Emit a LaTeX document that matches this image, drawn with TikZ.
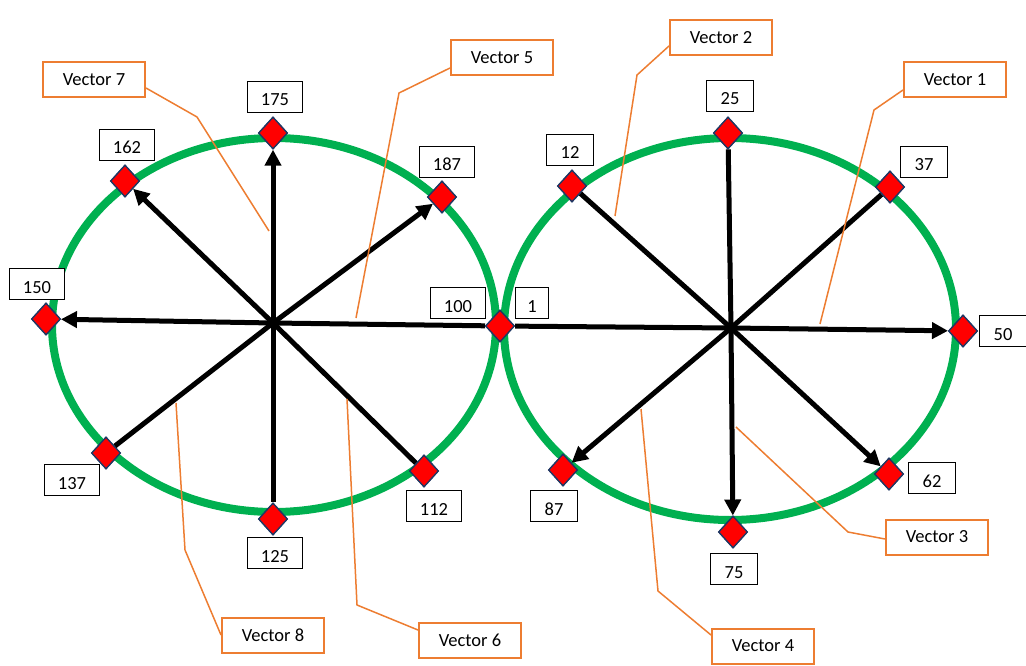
\documentclass[tikz,border=0pt]{standalone}
\usepackage{fontspec}
\setmainfont{Carlito}
\usetikzlibrary{shapes.geometric,arrows.meta}
\definecolor{ringgreen}{HTML}{00B050}
\definecolor{callorange}{HTML}{ED7D31}
\definecolor{dborder}{HTML}{203864}
\begin{document}
\begin{tikzpicture}[x=1pt,y=-1pt,
  font=\fontsize{18.5}{22}\selectfont,
  ring/.style={draw=ringgreen,line width=8pt},
  vec/.style={draw=black,line width=5pt},
  vecarrow/.style={vec,-{Triangle[length=16pt,width=16pt]}},
  dmd/.style={diamond,draw=dborder,line width=1.3pt,fill=red,inner sep=0pt,minimum width=29pt,minimum height=32pt},
  numbox/.style={draw=black,line width=1pt,fill=white,minimum height=31pt,inner sep=0pt,text height=18pt,text depth=0pt},
  numthree/.style={numbox,minimum width=55pt},
  numtwo/.style={numbox,minimum width=47pt},
  numone/.style={numbox,minimum width=33pt},
  callbox/.style={draw=callorange,line width=2pt,fill=white,minimum width=102pt,minimum height=35pt,inner sep=0pt},
  callline/.style={draw=callorange,line width=1.5pt}]
\useasboundingbox (0,0) rectangle (1026,666);

% rings
\draw[ring] (274,325) ellipse [x radius=222, y radius=187];
\draw[ring] (730,329) ellipse [x radius=226, y radius=191];

% centres
\coordinate (L) at (273,323);
\coordinate (R) at (731,328);

% diamonds
\node[dmd] (d175) at (273,133) {};
\node[dmd] (d162) at (125,181) {};
\node[dmd] (d187) at (442,197) {};
\node[dmd] (d150) at (46,319) {};
\node[dmd] (d100) at (500,326) {};
\node[dmd] (d137) at (106,453) {};
\node[dmd] (d125) at (273,519) {};
\node[dmd] (d112) at (424,471) {};
\node[dmd] (d25) at (728,133) {};
\node[dmd] (d12) at (572,186) {};
\node[dmd] (d37) at (890,187) {};
\node[dmd] (d50) at (963,331) {};
\node[dmd] (d87) at (563,470) {};
\node[dmd] (d75) at (733,532) {};
\node[dmd] (d62) at (889,474) {};

% vectors left
\draw[vecarrow] (L) -- (d175);
\draw[vecarrow] (L) -- (d162);
\draw[vecarrow] (L) -- (d187);
\draw[vecarrow] (L) -- (d150);
\draw[vec] (L) -- (d100);
\draw[vec] (L) -- (d137);
\draw[vec] (L) -- (d125);
\draw[vec] (L) -- (d112);
% vectors right
\draw[vec] (d100) -- (R);
\draw[vec] (R) -- (d12);
\draw[vec] (R) -- (d25);
\draw[vec] (R) -- (d37);
\draw[vecarrow] (R) -- (d50);
\draw[vecarrow] (R) -- (d62);
\draw[vecarrow] (R) -- (d75);
\draw[vecarrow] (R) -- (d87);

% redraw diamonds on top
\foreach \n in {d175,d162,d187,d150,d100,d137,d125,d112,d25,d12,d37,d50,d87,d75,d62}{
  \node[dmd] at (\n) {};
}

% number boxes
\node[numthree] (n175) at (275,97) {175};
\node[numthree] (n162) at (127,145) {162};
\node[numthree] (n187) at (447,162) {187};
\node[numthree] (n150) at (37,284) {150};
\node[numthree] (n100) at (458,303) {100};
\node[numone] (n1) at (532,303) {1};
\node[numtwo] (n12) at (570,150) {12};
\node[numtwo] (n25) at (730,96) {25};
\node[numtwo] (n37) at (924,162) {37};
\node[numtwo] (n50) at (1003,331) {50};
\node[numthree] (n137) at (72,480) {137};
\node[numthree] (n125) at (275,553) {125};
\node[numthree] (n112) at (434,506) {112};
\node[numtwo] (n87) at (554,506) {87};
\node[numtwo] (n75) at (734,569) {75};
\node[numtwo] (n62) at (932,478) {62};

% callout targets
\coordinate (c7) at (269,231);
\coordinate (c5) at (356,318);
\coordinate (c2) at (615,216);
\coordinate (c1) at (820,324);
\coordinate (c8) at (176,403);
\coordinate (c6) at (347,399);
\coordinate (c4) at (641,409);
\coordinate (c3) at (736,427);

% callout boxes
\node[callbox] (v7) at (94,80) {Vector 7};
\node[callbox] (v5) at (502,58) {Vector 5};
\node[callbox] (v2) at (721,38) {Vector 2};
\node[callbox] (v1) at (955,80) {Vector 1};
\node[callbox] (v8) at (273,635) {Vector 8};
\node[callbox] (v6) at (470,640) {Vector 6};
\node[callbox] (v4) at (763,646) {Vector 4};
\node[callbox] (v3) at (937,537) {Vector 3};

% callout lines
\draw[callline] ([yshift=-8pt]v7.east) -- (197,117) -- (c7);
\draw[callline] ([yshift=-10pt]v5.west) -- (399,93) -- (c5);
\draw[callline] ([yshift=-8pt]v2.west) -- (637,75) -- (c2);
\draw[callline] ([yshift=-10pt]v1.west) -- (874,110) -- (c1);
\draw[callline] (v8.west) -- (185,550) -- (c8);
\draw[callline] ([yshift=10pt]v6.west) -- (357,605) -- (c6);
\draw[callline] ([yshift=11pt]v4.west) -- (658,591) -- (c4);
\draw[callline] ([yshift=-2pt]v3.west) -- (848,532) -- (c3);
\end{tikzpicture}
\end{document}
